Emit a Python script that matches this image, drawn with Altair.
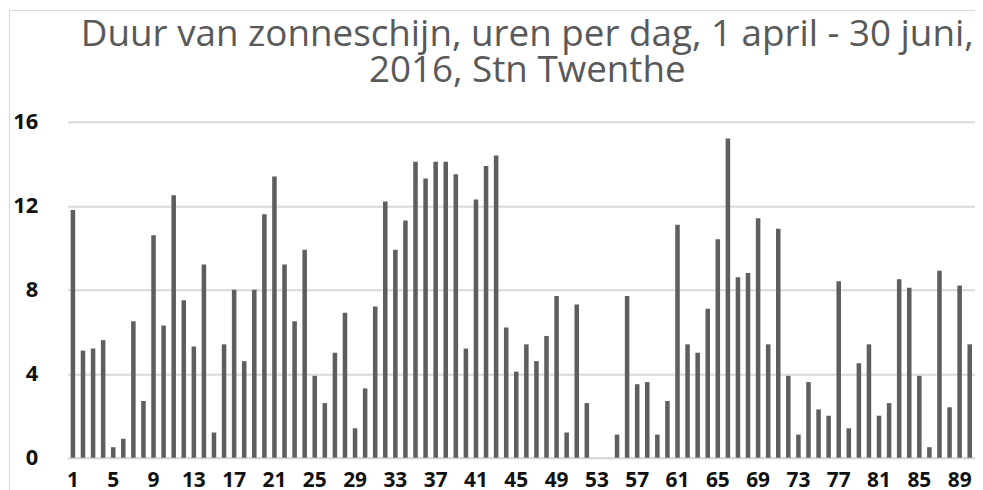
import altair as alt
import pandas as pd

days = list(range(1, 91))
hours = [11.8, 5.1, 5.2, 5.6, 0.5, 0.9, 6.5, 2.7, 10.6, 6.3,
         12.5, 7.5, 5.3, 9.2, 1.2, 5.4, 8.0, 4.6, 8.0, 11.6,
         13.4, 9.2, 6.5, 9.9, 3.9, 2.6, 5.0, 6.9, 1.4, 3.3,
         7.2, 12.2, 9.9, 11.3, 14.1, 13.3, 14.1, 14.1, 13.5, 5.2,
         12.3, 13.9, 14.4, 6.2, 4.1, 5.4, 4.6, 5.8, 7.7, 1.2,
         7.3, 2.6, 0.0, 0.0, 1.1, 7.7, 3.5, 3.6, 1.1, 2.7,
         11.1, 5.4, 5.0, 7.1, 10.4, 15.2, 8.6, 8.8, 11.4, 5.4,
         10.9, 3.9, 1.1, 3.6, 2.3, 2.0, 8.4, 1.4, 4.5, 5.4,
         2.0, 2.6, 8.5, 8.1, 3.9, 0.5, 8.9, 2.4, 8.2, 5.4]
x_ticks = list(range(1, 90, 4))
y_ticks = [0, 4, 8, 12, 16]
title_lines = ["Duur van zonneschijn, uren per dag, 1 april - 30 juni,",
               "2016, Stn Twenthe"]

df = pd.DataFrame({"dag": days, "uren": hours})

bars = alt.Chart(df).mark_bar(color="#5e5e5e").encode(
    x=alt.X("dag:O",
            scale=alt.Scale(paddingInner=0.55, paddingOuter=0.3),
            axis=alt.Axis(values=x_ticks, labelAngle=0, title=None, ticks=False,
                          domain=True, domainColor="#d9d9d9", domainWidth=2,
                          grid=False, labelFont="Open Sans", labelFontWeight="bold",
                          labelFontSize=21, labelColor="#111111", labelPadding=12,
                          labelBaseline="top")),
    y=alt.Y("uren:Q",
            scale=alt.Scale(domain=[0, 16]),
            axis=alt.Axis(values=y_ticks, title=None, ticks=False, domain=False,
                          grid=True, gridColor="#d9d9d9", gridWidth=2,
                          labelFont="Open Sans", labelFontWeight="bold",
                          labelFontSize=22, labelColor="#111111", labelPadding=30)),
)

frame_src = alt.Data(values=[{"k": 1}])
top_border = alt.Chart(frame_src).mark_rule(color="#d9d9d9", strokeWidth=1).encode(
    x=alt.value(-58.5), x2=alt.value(930), y=alt.value(-112))
left_border = alt.Chart(frame_src).mark_rule(color="#d9d9d9", strokeWidth=1).encode(
    x=alt.value(-58.5), y=alt.value(-112), y2=alt.value(380))

chart = alt.layer(bars, top_border, left_border).properties(
    width=913,
    height=338,
    autosize=alt.AutoSizeParams(type="none"),
    padding={"left": 60, "top": 113, "right": 0, "bottom": 31},
    title=alt.TitleParams(text=title_lines, font="Open Sans", fontSize=37,
                          fontWeight="normal", color="#595959", anchor="middle",
                          dx=6, offset=-80, lineHeight=36),
).configure_view(stroke=None)

chart.save("out.html", embed_options={"renderer": "svg", "actions": False})
